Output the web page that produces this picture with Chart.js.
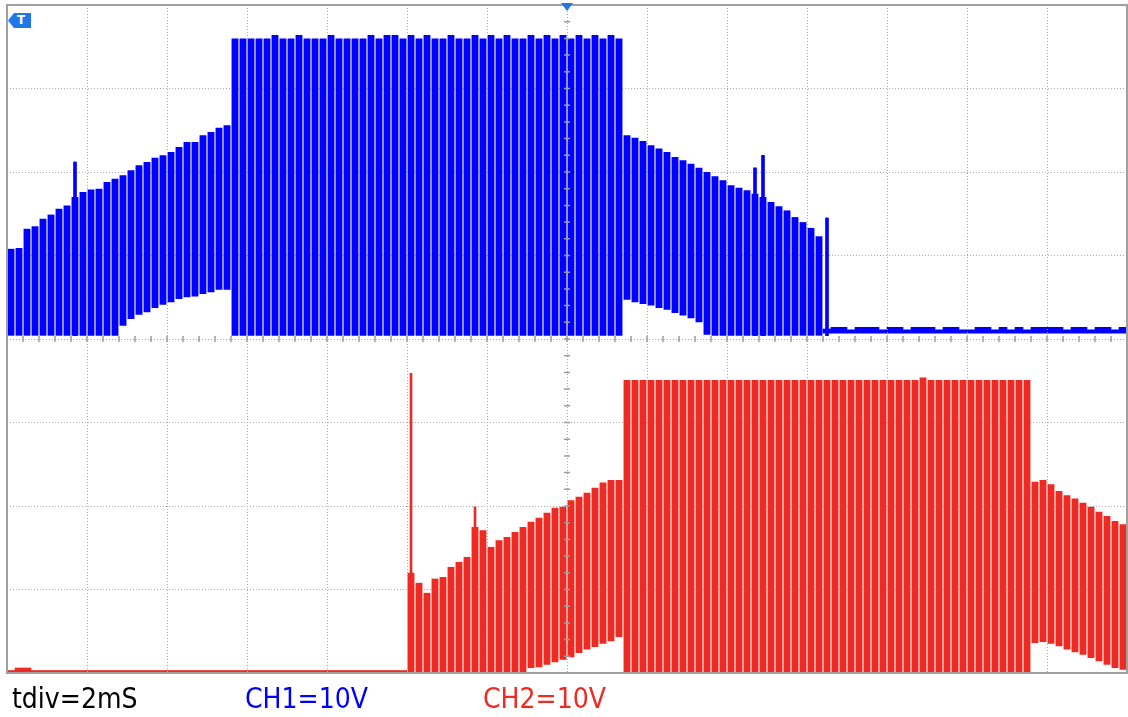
<!DOCTYPE html>
<html>
<head>
<meta charset="utf-8">
<script src="https://cdn.jsdelivr.net/npm/chart.js@4/dist/chart.umd.min.js"></script>
<style>
  body { margin: 0; background: #fff; }
  #wrap { position: relative; width: 1128px; height: 717px; }
  .lbl {
    position: absolute; top: 683px;
    font-family: "DejaVu Sans Condensed", "DejaVu Sans", sans-serif;
    font-stretch: condensed; font-size: 28px; line-height: 32px;
  }
  #trig {
    position: absolute; left: 8px; top: 13px; width: 23px; height: 15px;
    background: #1f78e6; color: #fff; font: bold 12px "DejaVu Sans", sans-serif;
    line-height: 15px; text-align: center; padding-left: 3px; box-sizing: border-box;
    clip-path: polygon(0 50%, 26% 0, 100% 0, 100% 100%, 26% 100%);
  }
</style>
</head>
<body>
<div id="wrap">
  <canvas id="scope"></canvas>
  <div id="trig">T</div>
  <span class="lbl" style="left:12px;color:#000">tdiv=2mS</span>
  <span class="lbl" style="left:245px;color:#0000ff">CH1=10V</span>
  <span class="lbl" style="left:483px;color:#ee2a22">CH2=10V</span>
</div>
<script>
// screen: 14 divisions across, 8 down; one time slot = 0.1 div (pulse period)
const SLOTS = 140
const labels = Array.from({ length: SLOTS }, (_, i) => String(i))
const timeDivs = [0, 1, 2, 3, 4, 5, 6, 7, 8, 9, 10, 11, 12, 13, 14]
const voltDivs = [0, 1, 2, 3, 4, 5, 6, 7, 8]

// CH1 pulses, slots 0..101 (upper / lower edge of each pulse, in divisions)
const ch1Top = [
  5.08, 5.09, 5.32, 5.35, 5.44, 5.49, 5.56, 5.60, 5.70, 5.76, 5.79, 5.80, 5.88, 5.92,
  5.96, 6.02, 6.08, 6.12, 6.17, 6.20, 6.24, 6.30, 6.36, 6.36, 6.44, 6.48, 6.53, 6.56,
  7.60, 7.60, 7.60, 7.60, 7.60, 7.64, 7.60, 7.60, 7.64, 7.60, 7.60, 7.60, 7.64, 7.60,
  7.60, 7.60, 7.60, 7.64, 7.60, 7.64, 7.64, 7.60, 7.64, 7.60, 7.64, 7.60, 7.60, 7.64,
  7.60, 7.60, 7.64, 7.60, 7.64, 7.60, 7.64, 7.60, 7.60, 7.64, 7.60, 7.64, 7.60, 7.64,
  7.60, 7.64, 7.60, 7.64, 7.60, 7.64, 7.60,
  6.44, 6.41, 6.37, 6.32, 6.28, 6.24, 6.18, 6.14, 6.10, 6.05, 6.00, 5.95, 5.90, 5.84,
  5.81, 5.78, 5.74, 5.70, 5.64, 5.59, 5.54, 5.46, 5.40, 5.33, 5.23
]
const ch1Low = [
  4.04, 4.04, 4.04, 4.04, 4.04, 4.04, 4.04, 4.04, 4.04, 4.04, 4.04, 4.04, 4.04, 4.04,
  4.16, 4.24, 4.29, 4.32, 4.37, 4.41, 4.44, 4.48, 4.50, 4.51, 4.54, 4.56, 4.59, 4.59,
  4.04, 4.04, 4.04, 4.04, 4.04, 4.04, 4.04, 4.04, 4.04, 4.04, 4.04, 4.04, 4.04, 4.04,
  4.04, 4.04, 4.04, 4.04, 4.04, 4.04, 4.04, 4.04, 4.04, 4.04, 4.04, 4.04, 4.04, 4.04,
  4.04, 4.04, 4.04, 4.04, 4.04, 4.04, 4.04, 4.04, 4.04, 4.04, 4.04, 4.04, 4.04, 4.04,
  4.04, 4.04, 4.04, 4.04, 4.04, 4.04, 4.04,
  4.47, 4.44, 4.42, 4.40, 4.37, 4.35, 4.31, 4.28, 4.25, 4.20, 4.05, 4.04, 4.04, 4.04,
  4.04, 4.04, 4.04, 4.04, 4.04, 4.04, 4.04, 4.04, 4.04, 4.04, 4.04
]
// narrow overshoot spikes [slot, top]
const ch1Spikes = [[8, 6.12], [93, 6.05], [94, 6.20], [102, 5.45]]
const ch1Base = 4.04
// CH1 idle band after the burst, slots 102..139
const CH1_IDLE_FROM = 102
const ch1IdleLow = 4.07
const ch1IdleTop = [
  4.12, 4.14, 4.14, 4.11, 4.14, 4.14, 4.14, 4.11, 4.14, 4.14, 4.11, 4.14, 4.14, 4.14,
  4.11, 4.14, 4.14, 4.11, 4.11, 4.14, 4.14, 4.11, 4.14, 4.11, 4.14, 4.11, 4.14, 4.14,
  4.14, 4.14, 4.11, 4.14, 4.14, 4.11, 4.14, 4.14, 4.11, 4.14
]

// CH2 idle line before its burst, slots 0..49
const ch2IdleTop = [
  0.03, 0.06, 0.06, 0.03, 0.03, 0.03, 0.03, 0.03, 0.03, 0.03, 0.03, 0.03, 0.03, 0.03,
  0.03, 0.03, 0.03, 0.03, 0.03, 0.03, 0.03, 0.03, 0.03, 0.03, 0.03, 0.03, 0.03, 0.03,
  0.03, 0.03, 0.03, 0.03, 0.03, 0.03, 0.03, 0.03, 0.03, 0.03, 0.03, 0.03, 0.03, 0.03,
  0.03, 0.03, 0.03, 0.03, 0.03, 0.03, 0.03, 0.03
]
// CH2 pulses, slots 50..139
const CH2_FROM = 50
const ch2Top = [
  1.20, 1.08, 0.96, 1.13, 1.15, 1.27, 1.33, 1.39, 1.75, 1.71, 1.51, 1.59, 1.63, 1.69,
  1.75, 1.81, 1.86, 1.92, 1.98, 1.99, 2.07, 2.11, 2.16, 2.22, 2.28, 2.31, 2.31,
  3.51, 3.51, 3.51, 3.51, 3.51, 3.51, 3.51, 3.51, 3.51, 3.51, 3.51, 3.51, 3.51, 3.51,
  3.51, 3.51, 3.51, 3.51, 3.51, 3.51, 3.51, 3.51, 3.51, 3.51, 3.51, 3.51, 3.51, 3.51,
  3.51, 3.51, 3.51, 3.51, 3.51, 3.51, 3.51, 3.51, 3.51, 3.54, 3.51, 3.51, 3.51, 3.51,
  3.51, 3.51, 3.51, 3.51, 3.51, 3.51, 3.51, 3.51, 3.51,
  2.29, 2.31, 2.26, 2.18, 2.13, 2.09, 2.04, 1.99, 1.93, 1.88, 1.82, 1.78
]
const ch2Low = [
  0, 0, 0, 0, 0, 0, 0, 0, 0, 0, 0, 0, 0, 0, 0,
  0.06, 0.07, 0.10, 0.13, 0.16, 0.19, 0.24, 0.28, 0.31, 0.35, 0.38, 0.43,
  0, 0, 0, 0, 0, 0, 0, 0, 0, 0, 0, 0, 0, 0, 0, 0, 0,
  0, 0, 0, 0, 0, 0, 0, 0, 0, 0, 0, 0, 0, 0, 0, 0, 0,
  0, 0, 0, 0, 0, 0, 0, 0, 0, 0, 0, 0, 0, 0, 0, 0, 0,
  0.36, 0.37, 0.35, 0.32, 0.28, 0.25, 0.22, 0.18, 0.14, 0.10, 0.06, 0.04
]
const ch2Spikes = [[50, 3.59], [58, 1.99]]

const BLUE = '#0000ff'
const RED = '#ee2b23'
const GRID = '#a9a9a9'

const bars = (from, lows, tops) => labels.map((_, i) => {
  const k = i - from
  if (k < 0 || k >= tops.length) return null
  return [typeof lows === 'number' ? lows : lows[k], tops[k]]
})
const spikes = (list, base) => labels.map((_, i) => {
  const s = list.find(p => p[0] === i)
  return s ? [base, s[1]] : null
})

const graticule = {
  id: 'graticule',
  afterDraw(chart) {
    const { ctx, chartArea: a, scales } = chart
    const gx = scales.gx, y = scales.y
    const cx = gx.getPixelForValue(7), cy = y.getPixelForValue(4)
    ctx.save()
    ctx.strokeStyle = '#9c9c9c'
    ctx.lineWidth = 1.5
    ctx.beginPath()
    for (let v = 0; v <= 14.001; v += 0.2) {
      const px = gx.getPixelForValue(v)
      ctx.moveTo(px, cy - 3); ctx.lineTo(px, cy + 3)
    }
    for (let v = 0; v <= 8.001; v += 0.2) {
      const py = y.getPixelForValue(v)
      ctx.moveTo(cx - 3, py); ctx.lineTo(cx + 3, py)
    }
    ctx.stroke()
    // frame
    ctx.strokeStyle = '#a0a0a0'
    ctx.lineWidth = 2
    ctx.strokeRect(a.left, a.top, a.right - a.left, a.bottom - a.top)
    // trigger-position marker
    ctx.fillStyle = '#1f78e6'
    ctx.beginPath()
    ctx.moveTo(cx - 6, 3); ctx.lineTo(cx + 6, 3); ctx.lineTo(cx, 11)
    ctx.closePath()
    ctx.fill()
    ctx.restore()
  }
}

new Chart(document.getElementById('scope'), {
  type: 'bar',
  data: {
    labels,
    datasets: [
      { data: bars(CH1_IDLE_FROM, ch1IdleLow, ch1IdleTop), backgroundColor: BLUE, barPercentage: 1, categoryPercentage: 1, grouped: false },
      { data: bars(0, ch1Low, ch1Top), backgroundColor: BLUE, barPercentage: 0.86, categoryPercentage: 1, grouped: false },
      { data: spikes(ch1Spikes, ch1Base), backgroundColor: BLUE, barThickness: 3, grouped: false },
      { data: bars(0, 0, ch2IdleTop), backgroundColor: RED, barPercentage: 1, categoryPercentage: 1, grouped: false },
      { data: bars(CH2_FROM, ch2Low, ch2Top), backgroundColor: RED, barPercentage: 0.86, categoryPercentage: 1, grouped: false },
      { data: spikes(ch2Spikes, 0), backgroundColor: RED, barThickness: 2, grouped: false }
    ]
  },
  options: {
    responsive: true,
    maintainAspectRatio: false,
    animation: false,
    events: [],
    layout: { padding: { left: 7, top: 5, right: 1, bottom: 44 } },
    plugins: { legend: { display: false }, tooltip: { enabled: false } },
    scales: {
      x: { type: 'category', display: false },
      gx: {
        type: 'linear', position: 'bottom', min: 0, max: 14, offset: false,
        afterBuildTicks: s => { s.ticks = timeDivs.map(value => ({ value })) },
        ticks: { display: false },
        grid: { color: GRID, lineWidth: 1, drawTicks: false, offset: false, z: 1 },
        border: { display: false, dash: [1, 2] }
      },
      y: {
        min: 0, max: 8,
        afterBuildTicks: s => { s.ticks = voltDivs.map(value => ({ value })) },
        ticks: { display: false },
        grid: { color: GRID, lineWidth: 1, drawTicks: false },
        border: { display: false, dash: [1, 2] }
      }
    }
  },
  plugins: [graticule]
})
</script>
</body>
</html>
